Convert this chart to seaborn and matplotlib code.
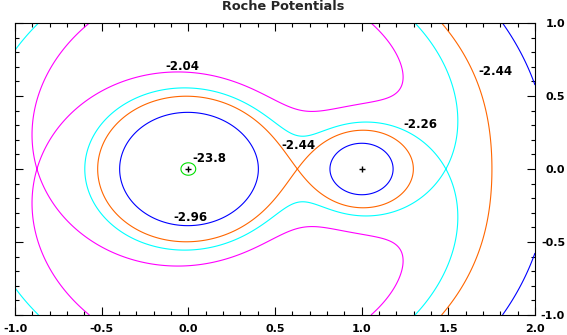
import numpy as np
import matplotlib
matplotlib.use("Agg")
import matplotlib.pyplot as plt
from matplotlib.ticker import MultipleLocator, FormatStrFormatter
import seaborn as sns

# --- data ---
mass_ratio = 0.2755                     # q = M2 / M1
star_x = [0.0, 1.0]                     # primary, secondary
star_y = [0.0, 0.0]
levels = [-23.8, -2.96, -2.44120, -2.26846, -2.04888]
level_colors = ["#00e000", "#0000ff", "#ff6600", "#00ffff", "#ff00ff"]
label_text = ["-2.04", "-2.44", "-2.26", "-2.44", "-23.8", "-2.96"]
label_x = [-0.035, 1.771, 1.337, 0.638, 0.123, 0.01]
label_y = [0.70, 0.666, 0.305, 0.16, 0.073, -0.329]
x_range = [-1.0, 2.0]
y_range = [-1.0, 1.0]
title = "Roche Potentials"

sns.set_style("white")
plt.rcParams["font.family"] = ["DejaVu Sans"]

fig = plt.figure(figsize=(5.67, 3.35), dpi=100)
ax = fig.add_axes([15/567, 1-315/335, 520/567, 292/335])

xs = np.linspace(x_range[0], x_range[1], 1501) + 1e-5
ys = np.linspace(y_range[0], y_range[1], 1001) + 1e-5
X, Y = np.meshgrid(xs, ys)
q = mass_ratio
r1 = np.hypot(X - star_x[0], Y)
r2 = np.hypot(X - star_x[1], Y)
xcm = q / (1 + q)
phi = -1.0/r1 - q/r2 - 0.5*(1 + q)*((X - xcm)**2 + Y**2)
# the coarse original grid never resolved the tiny core around the secondary
phi = np.ma.masked_where(r2 < 0.016, phi)

ax.contour(X, Y, phi, levels=levels, colors=level_colors, linewidths=0.8)

sns.scatterplot(x=star_x, y=star_y, marker="+", s=20, color="black",
                linewidth=1.0, ax=ax, zorder=5, legend=False)

for t, lx, ly in zip(label_text, label_x, label_y):
    ax.text(lx, ly, t, ha="center", va="center", fontsize=8.5,
            color="black", fontweight="bold")

ax.set_xlim(*x_range)
ax.set_ylim(*y_range)
ax.xaxis.set_major_locator(MultipleLocator(0.5))
ax.xaxis.set_minor_locator(MultipleLocator(0.1))
ax.yaxis.set_major_locator(MultipleLocator(0.5))
ax.yaxis.set_minor_locator(MultipleLocator(0.1))
ax.xaxis.set_major_formatter(FormatStrFormatter("%.1f"))
ax.yaxis.set_major_formatter(FormatStrFormatter("%.1f"))
ax.tick_params(which="both", direction="in", top=True, bottom=True,
               left=True, right=True, labelleft=False, labelright=True,
               labelbottom=True, colors="black", width=0.8)
ax.tick_params(which="major", length=5.5, labelsize=8)
ax.tick_params(which="minor", length=3)
ax.tick_params(axis="x", which="major", pad=6.5)
ax.tick_params(axis="y", which="major", pad=21.6)
for lab in ax.get_xticklabels():
    lab.set_fontweight("bold")
for lab in ax.get_yticklabels():
    lab.set_fontweight("bold")
    lab.set_horizontalalignment("right")
for s in ax.spines.values():
    s.set_color("black")
    s.set_linewidth(0.8)
ax.set_xlabel("")
ax.set_ylabel("")
fig.suptitle(title, x=0.5, y=1.0, va="top", fontsize=9.3, fontweight="bold")

fig.savefig("out.png", dpi=100)
